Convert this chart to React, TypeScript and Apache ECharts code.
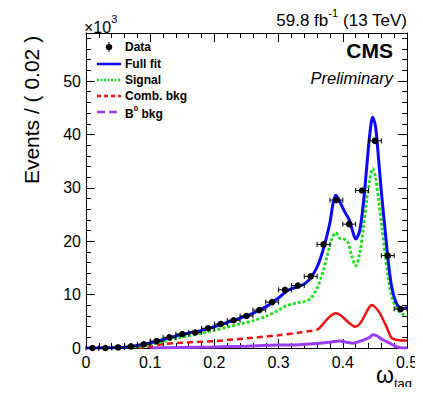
import React, { useEffect, useRef } from "react";
import * as echarts from "echarts";

// ---- data ----
const dataX = [0.01, 0.03, 0.05, 0.07, 0.09, 0.11, 0.13, 0.15, 0.17, 0.19, 0.21, 0.23, 0.25, 0.27, 0.29, 0.31, 0.33, 0.35, 0.37, 0.39, 0.41, 0.43, 0.45, 0.47, 0.49];
const dataY = [0, 0, 0.1, 0.3, 0.7, 1.3, 2.0, 2.6, 2.9, 3.7, 4.5, 5.2, 6.0, 7.1, 8.6, 10.9, 11.7, 13.4, 19.4, 27.7, 23.2, 29.5, 38.8, 17.3, 7.3];
const binHalfWidth = 0.01;

const fitX = [0, 0.02, 0.04, 0.06, 0.08, 0.10, 0.12, 0.14, 0.16, 0.18, 0.20, 0.22, 0.24, 0.26, 0.28, 0.30, 0.31, 0.32, 0.33, 0.34, 0.35, 0.36, 0.365, 0.372, 0.38, 0.385, 0.389, 0.395, 0.403, 0.41, 0.415, 0.42, 0.426, 0.432, 0.437, 0.442, 0.4465, 0.451, 0.456, 0.461, 0.466, 0.471, 0.476, 0.482, 0.488, 0.494, 0.5];
const fitY = [0, 0.02, 0.05, 0.15, 0.45, 0.95, 1.6, 2.25, 2.8, 3.3, 4.0, 4.8, 5.6, 6.5, 7.7, 9.4, 10.4, 11.1, 11.5, 12.0, 13.1, 15.2, 16.7, 19.5, 23.5, 27.2, 28.6, 27.5, 25.5, 24.0, 22.0, 20.4, 21.8, 27.0, 33.5, 40.0, 43.2, 41.5, 35.0, 28.0, 22.0, 16.0, 11.5, 8.8, 7.6, 7.4, 7.6];

const sigX = [0.06, 0.08, 0.10, 0.12, 0.14, 0.16, 0.18, 0.20, 0.22, 0.24, 0.26, 0.28, 0.30, 0.31, 0.32, 0.33, 0.34, 0.35, 0.36, 0.365, 0.37, 0.375, 0.38, 0.385, 0.389, 0.395, 0.402, 0.408, 0.414, 0.42, 0.426, 0.432, 0.437, 0.442, 0.4465, 0.451, 0.456, 0.461, 0.466, 0.471, 0.476, 0.482, 0.488, 0.494, 0.5];
const sigY = [0, 0.2, 0.6, 1.2, 1.8, 2.3, 2.8, 3.3, 3.9, 4.5, 5.1, 5.9, 7.1, 7.8, 8.2, 8.5, 8.7, 9.3, 11.2, 12.8, 14.6, 17.0, 19.3, 21.0, 21.6, 20.6, 20.4, 19.8, 17.2, 15.4, 17.5, 22.5, 27.5, 31.5, 33.6, 32.0, 27.5, 22.5, 17.5, 13.0, 9.8, 7.8, 6.8, 6.3, 6.0];

const combX = [0.08, 0.10, 0.12, 0.15, 0.20, 0.25, 0.30, 0.333, 0.35, 0.359, 0.365, 0.372, 0.38, 0.389, 0.397, 0.405, 0.412, 0.419, 0.427, 0.435, 0.441, 0.445, 0.45, 0.455, 0.46, 0.468, 0.476, 0.485, 0.5];
const combY = [0, 0.3, 0.7, 1.0, 1.3, 1.8, 2.4, 2.9, 3.2, 3.4, 3.9, 4.9, 5.9, 6.5, 6.1, 5.2, 4.5, 4.0, 4.6, 6.3, 7.6, 8.05, 7.7, 7.0, 6.0, 4.0, 1.9, 1.5, 1.4];
const combDashEnd = 0.365;

const b0X = [0.10, 0.15, 0.20, 0.25, 0.30, 0.333, 0.364, 0.38, 0.396, 0.405, 0.416, 0.425, 0.435, 0.442, 0.447, 0.453, 0.46, 0.468, 0.476, 0.484, 0.49, 0.5];
const b0Y = [0, 0.1, 0.2, 0.35, 0.55, 0.6, 0.9, 1.1, 1.3, 1.1, 0.9, 1.2, 1.6, 2.0, 2.5, 2.3, 1.7, 1.2, 0.7, 0.25, 0.05, 0];

const xTicks = [0, 0.1, 0.2, 0.3, 0.4, 0.5];
const yTicks = [0, 10, 20, 30, 40, 50];

const legendItems = ["Data", "Full fit", "Signal", "Comb. bkg", "B0 bkg"];

const FONT = '"Liberation Sans", Arial, Helvetica, sans-serif';
const BLUE = "#0a0af0";
const GREEN = "#18e018";
const RED = "#ee1111";
const PURPLE = "#9a3cf0";

const zip = (xs: number[], ys: number[]) => xs.map((x, i) => [x, ys[i]]);

export default function App() {
  const ref = useRef<HTMLDivElement>(null);
  useEffect(() => {
    if (!ref.current) return;
    const chart = echarts.init(ref.current, undefined, { renderer: "svg" });

    const gridLeft = 86, gridTop = 33, gridRight = 16, gridBottom = 47;

    const combPts = zip(combX, combY);
    const combDash = combPts.filter((p) => p[0] <= combDashEnd);
    const combSolid = combPts.filter((p) => p[0] >= combDashEnd);

    const axisCommon = {
      type: "value" as const,
      axisLine: { show: true, onZero: false, lineStyle: { color: "#000", width: 1 } },
      axisTick: { show: true, inside: true, length: 9, lineStyle: { color: "#000", width: 1 } },
      minorTick: { show: true, splitNumber: 5, length: 5, lineStyle: { color: "#000", width: 1 } },
      splitLine: { show: false },
    };

    const lx0 = 97, lx1 = 121, ltx = 125;
    const rowY = [47, 64, 80, 96, 112];
    const legFont = { fontFamily: FONT, fontWeight: "bold" as const, fontSize: 12, fill: "#000" };

    const option: any = {
      animation: false,
      backgroundColor: "#fff",
      grid: { left: gridLeft, top: gridTop, right: gridRight, bottom: gridBottom, containLabel: false },
      xAxis: [
        {
          ...axisCommon,
          position: "bottom",
          min: xTicks[0],
          max: xTicks[xTicks.length - 1],
          interval: 0.1,
          axisLabel: {
            show: true,
            margin: 6,
            fontFamily: FONT,
            fontSize: 16,
            color: "#000",
            formatter: (v: number) => String(Math.round(v * 10) / 10),
          },
        },
        {
          ...axisCommon,
          position: "top",
          min: xTicks[0],
          max: xTicks[xTicks.length - 1],
          interval: 0.1,
          axisLabel: { show: false },
        },
      ],
      yAxis: [
        {
          ...axisCommon,
          position: "left",
          min: 0,
          max: 59,
          interval: 10,
          axisLabel: {
            show: true,
            margin: 5,
            fontFamily: FONT,
            fontSize: 16,
            color: "#000",
            formatter: (v: number) => (yTicks.indexOf(Math.round(v * 1000) / 1000) >= 0 ? String(v) : ""),
          },
        },
        {
          ...axisCommon,
          position: "right",
          min: 0,
          max: 59,
          interval: 10,
          axisLabel: { show: false },
        },
      ],
      series: [
        {
          type: "line",
          name: "B0 bkg",
          data: zip(b0X, b0Y),
          symbol: "none",
          smooth: 0.3,
          lineStyle: { color: PURPLE, width: 3 },
          z: 2,
        },
        {
          type: "line",
          name: "Comb. bkg",
          data: combDash,
          symbol: "none",
          smooth: 0.3,
          lineStyle: { color: RED, width: 2.5, type: [6, 4] },
          z: 3,
        },
        {
          type: "line",
          name: "Comb. bkg solid",
          data: combSolid,
          symbol: "none",
          smooth: 0.3,
          lineStyle: { color: RED, width: 2.5 },
          z: 3,
        },
        {
          type: "line",
          name: "Signal",
          data: zip(sigX, sigY),
          symbol: "none",
          smooth: 0.3,
          lineStyle: { color: GREEN, width: 2.8, type: [3, 2] },
          z: 4,
        },
        {
          type: "line",
          name: "Full fit",
          data: zip(fitX, fitY),
          symbol: "none",
          smooth: 0.3,
          lineStyle: { color: BLUE, width: 3 },
          z: 5,
        },
        {
          type: "custom",
          name: "Data",
          data: zip(dataX, dataY),
          z: 6,
          renderItem: (params: any, api: any) => {
            const x = api.value(0);
            const y = api.value(1);
            const c = api.coord([x, y]);
            const l = api.coord([x - binHalfWidth, y]);
            const r = api.coord([x + binHalfWidth, y]);
            const st = { stroke: "#000", lineWidth: 1 };
            return {
              type: "group",
              children: [
                { type: "line", shape: { x1: l[0], y1: c[1], x2: r[0], y2: c[1] }, style: st },
                { type: "line", shape: { x1: l[0], y1: c[1] - 2.5, x2: l[0], y2: c[1] + 2.5 }, style: st },
                { type: "line", shape: { x1: r[0], y1: c[1] - 2.5, x2: r[0], y2: c[1] + 2.5 }, style: st },
                { type: "circle", shape: { cx: c[0], cy: c[1], r: 3.3 }, style: { fill: "#000" } },
              ],
            };
          },
        },
      ],
      graphic: [
        // y axis title
        {
          type: "text",
          x: 31,
          y: 110,
          rotation: Math.PI / 2,
          style: { text: "Events / ( 0.02 )", fontFamily: FONT, fontSize: 21, fill: "#000", align: "center", verticalAlign: "middle" },
        },
        // x10^3
        {
          type: "text",
          x: 84,
          y: 24,
          style: {
            text: "{n|×10}{s|3}",
            fontFamily: FONT,
            fill: "#000",
            align: "left",
            verticalAlign: "middle",
            rich: {
              n: { fontFamily: FONT, fontSize: 16, lineHeight: 22, verticalAlign: "bottom" },
              s: { fontFamily: FONT, fontSize: 11, lineHeight: 11, verticalAlign: "top" },
            },
          },
        },
        // lumi
        {
          type: "text",
          x: 407,
          y: 18,
          style: {
            text: "{n|59.8 fb}{s|-1}{n| (13 TeV)}",
            fontFamily: FONT,
            fill: "#000",
            align: "right",
            verticalAlign: "middle",
            rich: {
              n: { fontFamily: FONT, fontSize: 17, lineHeight: 22, verticalAlign: "bottom" },
              s: { fontFamily: FONT, fontSize: 11, lineHeight: 11, verticalAlign: "top" },
            },
          },
        },
        {
          type: "text",
          x: 393,
          y: 50,
          style: { text: "CMS", fontFamily: FONT, fontWeight: "bold", fontSize: 21, fill: "#000", align: "right", verticalAlign: "middle" },
        },
        {
          type: "text",
          x: 393,
          y: 78,
          style: { text: "Preliminary", fontFamily: FONT, fontStyle: "italic", fontSize: 16.5, fill: "#000", align: "right", verticalAlign: "middle" },
        },
        // x axis title: omega with subscript "tag"
        {
          type: "text",
          x: 394,
          y: 375,
          style: { text: "ω", fontFamily: FONT, fontSize: 23, fill: "#000", align: "right", verticalAlign: "middle" },
        },
        {
          type: "text",
          x: 394,
          y: 383,
          style: { text: "tag", fontFamily: FONT, fontSize: 13, fill: "#000", align: "left", verticalAlign: "middle" },
        },
        // legend
        { type: "line", shape: { x1: 109, y1: rowY[0] - 5, x2: 109, y2: rowY[0] + 5 }, style: { stroke: "#000", lineWidth: 1 } },
        { type: "circle", shape: { cx: 109, cy: rowY[0], r: 3.3 }, style: { fill: "#000" } },
        { type: "text", x: ltx, y: rowY[0], style: { text: legendItems[0], ...legFont, align: "left", verticalAlign: "middle" } },
        { type: "line", shape: { x1: lx0, y1: rowY[1], x2: lx1, y2: rowY[1] }, style: { stroke: BLUE, lineWidth: 2.5 } },
        { type: "text", x: ltx, y: rowY[1], style: { text: legendItems[1], ...legFont, align: "left", verticalAlign: "middle" } },
        { type: "line", shape: { x1: lx0, y1: rowY[2], x2: lx1, y2: rowY[2] }, style: { stroke: GREEN, lineWidth: 2.5, lineDash: [2, 1.5] } },
        { type: "text", x: ltx, y: rowY[2], style: { text: legendItems[2], ...legFont, align: "left", verticalAlign: "middle" } },
        { type: "line", shape: { x1: lx0, y1: rowY[3], x2: lx1, y2: rowY[3] }, style: { stroke: RED, lineWidth: 2.5, lineDash: [4, 3] } },
        { type: "text", x: ltx, y: rowY[3], style: { text: legendItems[3], ...legFont, align: "left", verticalAlign: "middle" } },
        { type: "line", shape: { x1: lx0, y1: rowY[4], x2: lx1, y2: rowY[4] }, style: { stroke: PURPLE, lineWidth: 2.5, lineDash: [8, 4] } },
        {
          type: "text",
          x: ltx,
          y: rowY[4],
          style: {
            text: "{n|B}{s|0}{n| bkg}",
            fill: "#000",
            align: "left",
            verticalAlign: "middle",
            rich: {
              n: { fontFamily: FONT, fontWeight: "bold", fontSize: 12, lineHeight: 16, verticalAlign: "bottom" },
              s: { fontFamily: FONT, fontWeight: "bold", fontSize: 8, lineHeight: 8, verticalAlign: "top" },
            },
          },
        },
      ],
    };

    chart.setOption(option);
    return () => chart.dispose();
  }, []);

  return <div ref={ref} style={{ width: 423, height: 395, margin: -8 }} />;
}
